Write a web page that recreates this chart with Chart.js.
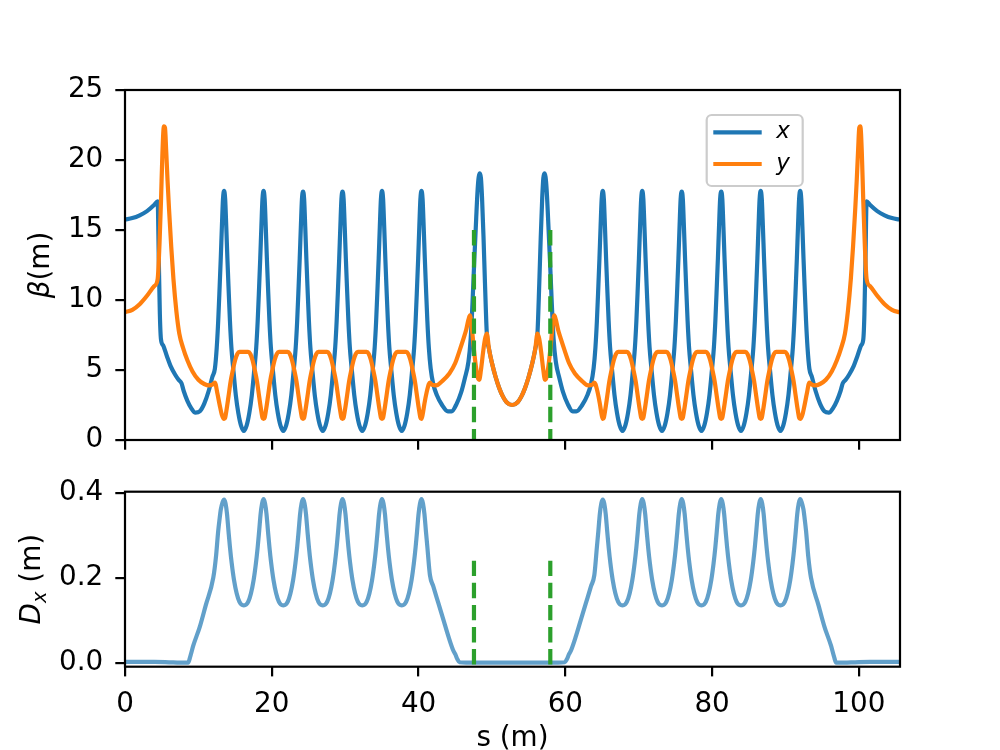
<!DOCTYPE html>
<html>
<head>
<meta charset="utf-8">
<title>Beta functions and dispersion</title>
<script src="https://cdn.jsdelivr.net/npm/chart.js@4.4.1/dist/chart.umd.min.js"></script>
<style>
  html, body { margin: 0; padding: 0; background: #fff; overflow: hidden; }
  #wrap { position: relative; width: 1000px; height: 750px; overflow: hidden; }
  canvas { position: absolute; left: 0; }
  #beta { top: 0; }
  #disp { top: 470px; }
</style>
</head>
<body>
<div id="wrap">
  <canvas id="beta" width="1000" height="470"></canvas>
  <canvas id="disp" width="1000" height="290"></canvas>
</div>
<script>
// values: [s (m), value]
const betaX = [
  [0,15.75],[1,15.85],[2,16.05],[3,16.35],[4,16.8],[4.45,17.05],[4.6,13.0],[4.75,9.0],[4.9,7.2],[5.2,6.75],[5.7,6.0],[6.2,5.3],[6.8,4.7],[7.3,4.3],[7.7,4.05],[8.0,3.5],[8.5,2.8],[9.0,2.3],[9.6,1.95],[10.2,2.05],[10.8,2.6],[11.4,3.5],[11.9,4.5],[12.25,5.1],[12.5,6.6],[12.7,8.5],[12.9,11.0],[13.05,13.0],[13.2,15.2],[13.35,17.2],[13.5,17.8],
  [13.65,17.2],[13.8,15.2],[13.95,13.0],[14.1,11.0],[14.3,8.5],[14.5,6.6],[14.75,5.1],[15.1,3.2],[15.45,1.9],[15.8,1.05],[16.19,0.65],[16.58,1.05],[16.93,1.9],[17.28,3.2],[17.63,5.1],[17.88,6.6],[18.08,8.5],[18.28,11.0],[18.43,13.0],[18.58,15.2],[18.73,17.2],[18.88,17.8],
  [19.03,17.2],[19.18,15.2],[19.33,13.0],[19.48,11.0],[19.68,8.5],[19.88,6.6],[20.13,5.1],[20.48,3.2],[20.83,1.9],[21.18,1.05],[21.57,0.65],[21.96,1.05],[22.31,1.9],[22.66,3.2],[23.01,5.1],[23.26,6.6],[23.46,8.5],[23.66,11.0],[23.81,13.0],[23.96,15.2],[24.11,17.2],[24.26,17.75],
  [24.41,17.2],[24.56,15.2],[24.71,13.0],[24.86,11.0],[25.06,8.5],[25.26,6.6],[25.51,5.1],[25.86,3.2],[26.21,1.9],[26.56,1.05],[26.95,0.65],[27.34,1.05],[27.69,1.9],[28.04,3.2],[28.39,5.1],[28.64,6.6],[28.84,8.5],[29.04,11.0],[29.19,13.0],[29.34,15.2],[29.49,17.2],[29.64,17.75],
  [29.79,17.2],[29.94,15.2],[30.09,13.0],[30.24,11.0],[30.44,8.5],[30.64,6.6],[30.89,5.1],[31.24,3.2],[31.59,1.9],[31.94,1.05],[32.33,0.65],[32.72,1.05],[33.07,1.9],[33.42,3.2],[33.77,5.1],[34.02,6.6],[34.22,8.5],[34.42,11.0],[34.57,13.0],[34.72,15.2],[34.87,17.2],[35.02,17.8],
  [35.17,17.2],[35.32,15.2],[35.47,13.0],[35.62,11.0],[35.82,8.5],[36.02,6.6],[36.27,5.1],[36.62,3.2],[36.97,1.9],[37.32,1.05],[37.71,0.65],[38.1,1.05],[38.45,1.9],[38.8,3.2],[39.15,5.1],[39.4,6.6],[39.6,8.5],[39.8,11.0],[39.95,13.0],[40.1,15.2],[40.25,17.2],[40.4,17.8],
  [40.55,17.2],[40.7,15.2],[40.85,13.0],[41.0,11.0],[41.2,8.5],[41.4,6.6],[41.65,5.1],[42.0,4.0],[42.5,3.2],[43.2,2.5],[44.0,2.05],[44.5,2.05],[45.2,2.6],[45.8,3.4],[46.3,4.4],[46.8,5.6],[47.1,7.2],[47.35,9.8],[47.6,12.9],[47.85,15.8],[48.05,17.9],[48.2,18.8],[48.36,19.05],[48.5,18.7],[48.65,17.3],[48.85,14.5],[49.05,11.2],[49.3,7.6],[49.6,6.5],[50.0,5.5],[50.5,4.5],[51.0,3.7],[51.5,3.1],[52.0,2.7],[52.75,2.5],
  [53.5,2.7],[54.0,3.1],[54.5,3.7],[55.0,4.5],[55.5,5.5],[55.9,6.5],[56.2,7.6],[56.45,11.2],[56.65,14.5],[56.85,17.3],[57.0,18.7],[57.14,19.05],[57.3,18.8],[57.45,17.9],[57.65,15.8],[57.9,12.9],[58.15,9.8],[58.4,7.2],[58.7,5.6],[59.2,4.4],[59.7,3.4],[60.3,2.6],[61.0,2.05],[61.5,2.05],[62.3,2.5],[63.0,3.2],[63.5,4.0],[63.85,5.1],[64.1,6.6],[64.3,8.5],[64.5,11.0],[64.65,13.0],[64.8,15.2],[64.95,17.2],[65.1,17.8],
  [65.25,17.2],[65.4,15.2],[65.55,13.0],[65.7,11.0],[65.9,8.5],[66.1,6.6],[66.35,5.1],[66.7,3.2],[67.05,1.9],[67.4,1.05],[67.79,0.65],[68.18,1.05],[68.53,1.9],[68.88,3.2],[69.23,5.1],[69.48,6.6],[69.68,8.5],[69.88,11.0],[70.03,13.0],[70.18,15.2],[70.33,17.2],[70.48,17.8],
  [70.63,17.2],[70.78,15.2],[70.93,13.0],[71.08,11.0],[71.28,8.5],[71.48,6.6],[71.73,5.1],[72.08,3.2],[72.43,1.9],[72.78,1.05],[73.17,0.65],[73.56,1.05],[73.91,1.9],[74.26,3.2],[74.61,5.1],[74.86,6.6],[75.06,8.5],[75.26,11.0],[75.41,13.0],[75.56,15.2],[75.71,17.2],[75.86,17.75],
  [76.01,17.2],[76.16,15.2],[76.31,13.0],[76.46,11.0],[76.66,8.5],[76.86,6.6],[77.11,5.1],[77.46,3.2],[77.81,1.9],[78.16,1.05],[78.55,0.65],[78.94,1.05],[79.29,1.9],[79.64,3.2],[79.99,5.1],[80.24,6.6],[80.44,8.5],[80.64,11.0],[80.79,13.0],[80.94,15.2],[81.09,17.2],[81.24,17.75],
  [81.39,17.2],[81.54,15.2],[81.69,13.0],[81.84,11.0],[82.04,8.5],[82.24,6.6],[82.49,5.1],[82.84,3.2],[83.19,1.9],[83.54,1.05],[83.93,0.65],[84.32,1.05],[84.67,1.9],[85.02,3.2],[85.37,5.1],[85.62,6.6],[85.82,8.5],[86.02,11.0],[86.17,13.0],[86.32,15.2],[86.47,17.2],[86.62,17.8],
  [86.77,17.2],[86.92,15.2],[87.07,13.0],[87.22,11.0],[87.42,8.5],[87.62,6.6],[87.87,5.1],[88.22,3.2],[88.57,1.9],[88.92,1.05],[89.31,0.65],[89.7,1.05],[90.05,1.9],[90.4,3.2],[90.75,5.1],[91.0,6.6],[91.2,8.5],[91.4,11.0],[91.55,13.0],[91.7,15.2],[91.85,17.2],[92.0,17.8],
  [92.15,17.2],[92.3,15.2],[92.45,13.0],[92.6,11.0],[92.8,8.5],[93.0,6.6],[93.25,5.1],[93.6,4.5],[94.1,3.5],[94.7,2.6],[95.3,2.05],[95.9,1.95],[96.5,2.3],[97.0,2.8],[97.5,3.5],[97.8,4.05],[98.2,4.3],[98.7,4.7],[99.3,5.3],[99.8,6.0],[100.3,6.75],[100.6,7.2],[100.75,9.0],[100.9,13.0],[101.05,17.05],[101.5,16.8],[102.5,16.35],[103.5,16.05],[104.5,15.85],[105.5,15.75],[105.6,15.74]
];

const betaY = [
  [0,9.13],[1,9.3],[2,9.7],[3,10.3],[4,11.0],[4.45,11.5],[4.7,14.0],[4.9,17.0],[5.1,20.5],[5.3,22.4],[5.45,22.3],[5.6,20.8],[5.8,18.5],[6.0,16.5],[6.3,13.8],[6.6,11.5],[7.0,9.2],[7.4,7.6],[7.9,6.6],[8.5,5.7],[9.2,4.9],[10.0,4.3],[10.8,4.0],[11.5,3.9],[11.9,3.95],[12.25,4.1],[12.6,3.3],[12.9,2.5],[13.2,1.8],[13.5,1.5],
  [13.65,1.6],[13.85,2.2],[14.1,3.1],[14.4,4.2],[14.7,5.0],[15.0,5.7],[15.3,6.15],[15.6,6.3],[16.19,6.3],[16.78,6.3],[17.08,6.15],[17.38,5.7],[17.68,5.0],[17.98,4.2],[18.28,3.1],[18.53,2.2],[18.73,1.6],[18.88,1.5],
  [19.03,1.6],[19.23,2.2],[19.48,3.1],[19.78,4.2],[20.08,5.0],[20.38,5.7],[20.68,6.15],[20.98,6.3],[21.57,6.3],[22.16,6.3],[22.46,6.15],[22.76,5.7],[23.06,5.0],[23.36,4.2],[23.66,3.1],[23.91,2.2],[24.11,1.6],[24.26,1.5],
  [24.41,1.6],[24.61,2.2],[24.86,3.1],[25.16,4.2],[25.46,5.0],[25.76,5.7],[26.06,6.15],[26.36,6.3],[26.95,6.3],[27.54,6.3],[27.84,6.15],[28.14,5.7],[28.44,5.0],[28.74,4.2],[29.04,3.1],[29.29,2.2],[29.49,1.6],[29.64,1.5],
  [29.79,1.6],[29.99,2.2],[30.24,3.1],[30.54,4.2],[30.84,5.0],[31.14,5.7],[31.44,6.15],[31.74,6.3],[32.33,6.3],[32.92,6.3],[33.22,6.15],[33.52,5.7],[33.82,5.0],[34.12,4.2],[34.42,3.1],[34.67,2.2],[34.87,1.6],[35.02,1.5],
  [35.17,1.6],[35.37,2.2],[35.62,3.1],[35.92,4.2],[36.22,5.0],[36.52,5.7],[36.82,6.15],[37.12,6.3],[37.71,6.3],[38.3,6.3],[38.6,6.15],[38.9,5.7],[39.2,5.0],[39.5,4.2],[39.8,3.1],[40.05,2.2],[40.25,1.6],[40.4,1.5],
  [40.55,1.8],[40.8,2.6],[41.1,3.4],[41.4,4.0],[41.55,4.1],[41.8,3.95],[42.4,3.9],[43.2,4.2],[44.2,4.75],[45.0,5.5],[45.6,6.4],[46.1,7.2],[46.5,7.9],[46.8,8.6],[47.0,8.9],[47.2,8.3],[47.5,6.7],[47.8,5.3],[48.05,4.5],[48.27,4.3],[48.5,5.0],[48.8,6.3],[49.05,7.2],[49.3,7.6],[49.6,6.5],[50.0,5.5],[50.5,4.5],[51.0,3.7],[51.5,3.1],[52.0,2.7],[52.75,2.5],
  [53.5,2.7],[54.0,3.1],[54.5,3.7],[55.0,4.5],[55.5,5.5],[55.9,6.5],[56.2,7.6],[56.45,7.2],[56.7,6.3],[57.0,5.0],[57.23,4.3],[57.45,4.5],[57.7,5.3],[58.0,6.7],[58.3,8.3],[58.5,8.9],[58.7,8.6],[59.0,7.9],[59.4,7.2],[59.9,6.4],[60.5,5.5],[61.3,4.75],[62.3,4.2],[63.1,3.9],[63.7,3.95],[63.95,4.1],[64.1,4.0],[64.4,3.4],[64.7,2.6],[64.95,1.8],[65.1,1.5],
  [65.25,1.6],[65.45,2.2],[65.7,3.1],[66.0,4.2],[66.3,5.0],[66.6,5.7],[66.9,6.15],[67.2,6.3],[67.79,6.3],[68.38,6.3],[68.68,6.15],[68.98,5.7],[69.28,5.0],[69.58,4.2],[69.88,3.1],[70.13,2.2],[70.33,1.6],[70.48,1.5],
  [70.63,1.6],[70.83,2.2],[71.08,3.1],[71.38,4.2],[71.68,5.0],[71.98,5.7],[72.28,6.15],[72.58,6.3],[73.17,6.3],[73.76,6.3],[74.06,6.15],[74.36,5.7],[74.66,5.0],[74.96,4.2],[75.26,3.1],[75.51,2.2],[75.71,1.6],[75.86,1.5],
  [76.01,1.6],[76.21,2.2],[76.46,3.1],[76.76,4.2],[77.06,5.0],[77.36,5.7],[77.66,6.15],[77.96,6.3],[78.55,6.3],[79.14,6.3],[79.44,6.15],[79.74,5.7],[80.04,5.0],[80.34,4.2],[80.64,3.1],[80.89,2.2],[81.09,1.6],[81.24,1.5],
  [81.39,1.6],[81.59,2.2],[81.84,3.1],[82.14,4.2],[82.44,5.0],[82.74,5.7],[83.04,6.15],[83.34,6.3],[83.93,6.3],[84.52,6.3],[84.82,6.15],[85.12,5.7],[85.42,5.0],[85.72,4.2],[86.02,3.1],[86.27,2.2],[86.47,1.6],[86.62,1.5],
  [86.77,1.6],[86.97,2.2],[87.22,3.1],[87.52,4.2],[87.82,5.0],[88.12,5.7],[88.42,6.15],[88.72,6.3],[89.31,6.3],[89.9,6.3],[90.2,6.15],[90.5,5.7],[90.8,5.0],[91.1,4.2],[91.4,3.1],[91.65,2.2],[91.85,1.6],[92.0,1.5],
  [92.3,1.8],[92.6,2.5],[92.9,3.3],[93.25,4.1],[93.6,3.95],[94.0,3.9],[94.7,4.0],[95.5,4.3],[96.3,4.9],[97.0,5.7],[97.6,6.6],[98.1,7.6],[98.5,9.2],[98.9,11.5],[99.2,13.8],[99.5,16.5],[99.7,18.5],[99.9,20.8],[100.05,22.3],[100.2,22.4],[100.4,20.5],[100.6,17.0],[100.8,14.0],[101.05,11.5],[101.5,11.0],[102.5,10.3],[103.5,9.7],[104.5,9.3],[105.5,9.13],[105.6,9.12]
];

const dispX = [
  [0,0.002],[2,0.002],[4,0.002],[6,0.001],[7.5,0.0],[8.6,0.0],[8.9,0.015],[9.3,0.04],[10.2,0.085],[11.0,0.135],[12.03,0.2],[12.4,0.25],[12.7,0.31],[12.9,0.34],[13.05,0.36],[13.3,0.378],[13.5,0.384],
  [13.7,0.375],[13.9,0.35],[14.1,0.31],[14.3,0.272],[14.54,0.234],[14.85,0.195],[15.22,0.163],[15.6,0.143],[15.85,0.137],[16.19,0.135],[16.53,0.137],[16.78,0.143],[17.16,0.163],[17.53,0.195],[17.84,0.234],[18.08,0.272],[18.28,0.31],[18.48,0.35],[18.68,0.375],[18.88,0.385],
  [19.08,0.375],[19.28,0.35],[19.48,0.31],[19.68,0.272],[19.92,0.234],[20.23,0.195],[20.6,0.163],[20.98,0.143],[21.23,0.137],[21.57,0.135],[21.91,0.137],[22.16,0.143],[22.54,0.163],[22.91,0.195],[23.22,0.234],[23.46,0.272],[23.66,0.31],[23.86,0.35],[24.06,0.375],[24.26,0.385],
  [24.46,0.375],[24.66,0.35],[24.86,0.31],[25.06,0.272],[25.3,0.234],[25.61,0.195],[25.98,0.163],[26.36,0.143],[26.61,0.137],[26.95,0.135],[27.29,0.137],[27.54,0.143],[27.92,0.163],[28.29,0.195],[28.6,0.234],[28.84,0.272],[29.04,0.31],[29.24,0.35],[29.44,0.375],[29.64,0.385],
  [29.84,0.375],[30.04,0.35],[30.24,0.31],[30.44,0.272],[30.68,0.234],[30.99,0.195],[31.36,0.163],[31.74,0.143],[31.99,0.137],[32.33,0.135],[32.67,0.137],[32.92,0.143],[33.3,0.163],[33.67,0.195],[33.98,0.234],[34.22,0.272],[34.42,0.31],[34.62,0.35],[34.82,0.375],[35.02,0.385],
  [35.22,0.375],[35.42,0.35],[35.62,0.31],[35.82,0.272],[36.06,0.234],[36.37,0.195],[36.74,0.163],[37.12,0.143],[37.37,0.137],[37.71,0.135],[38.05,0.137],[38.3,0.143],[38.68,0.163],[39.05,0.195],[39.36,0.234],[39.6,0.272],[39.8,0.31],[40.0,0.35],[40.2,0.375],[40.4,0.385],
  [40.6,0.375],[40.8,0.35],[41.0,0.31],[41.2,0.272],[41.55,0.206],[42.0,0.18],[42.7,0.14],[43.4,0.1],[44.1,0.06],[44.7,0.03],[45.0,0.02],[45.3,0.008],[45.6,0.001],[46.5,0.0],[52.75,0.0],
  [59.0,0.0],[59.9,0.001],[60.2,0.008],[60.5,0.02],[60.8,0.03],[61.4,0.06],[62.1,0.1],[62.8,0.14],[63.5,0.18],[63.95,0.206],[64.3,0.272],[64.5,0.31],[64.7,0.35],[64.9,0.375],[65.1,0.384],
  [65.3,0.375],[65.5,0.35],[65.7,0.31],[65.9,0.272],[66.14,0.234],[66.45,0.195],[66.82,0.163],[67.2,0.143],[67.45,0.137],[67.79,0.135],[68.13,0.137],[68.38,0.143],[68.76,0.163],[69.13,0.195],[69.44,0.234],[69.68,0.272],[69.88,0.31],[70.08,0.35],[70.28,0.375],[70.48,0.385],
  [70.68,0.375],[70.88,0.35],[71.08,0.31],[71.28,0.272],[71.52,0.234],[71.83,0.195],[72.2,0.163],[72.58,0.143],[72.83,0.137],[73.17,0.135],[73.51,0.137],[73.76,0.143],[74.14,0.163],[74.51,0.195],[74.82,0.234],[75.06,0.272],[75.26,0.31],[75.46,0.35],[75.66,0.375],[75.86,0.385],
  [76.06,0.375],[76.26,0.35],[76.46,0.31],[76.66,0.272],[76.9,0.234],[77.21,0.195],[77.58,0.163],[77.96,0.143],[78.21,0.137],[78.55,0.135],[78.89,0.137],[79.14,0.143],[79.52,0.163],[79.89,0.195],[80.2,0.234],[80.44,0.272],[80.64,0.31],[80.84,0.35],[81.04,0.375],[81.24,0.385],
  [81.44,0.375],[81.64,0.35],[81.84,0.31],[82.04,0.272],[82.28,0.234],[82.59,0.195],[82.96,0.163],[83.34,0.143],[83.59,0.137],[83.93,0.135],[84.27,0.137],[84.52,0.143],[84.9,0.163],[85.27,0.195],[85.58,0.234],[85.82,0.272],[86.02,0.31],[86.22,0.35],[86.42,0.375],[86.62,0.385],
  [86.82,0.375],[87.02,0.35],[87.22,0.31],[87.42,0.272],[87.66,0.234],[87.97,0.195],[88.34,0.163],[88.72,0.143],[88.97,0.137],[89.31,0.135],[89.65,0.137],[89.9,0.143],[90.28,0.163],[90.65,0.195],[90.96,0.234],[91.2,0.272],[91.4,0.31],[91.6,0.35],[91.8,0.375],[92.0,0.385],
  [92.2,0.378],[92.45,0.36],[92.6,0.34],[92.8,0.31],[93.1,0.25],[93.47,0.2],[94.5,0.135],[95.3,0.085],[96.2,0.04],[96.6,0.015],[96.9,0.0],[98.0,0.0],[99.5,0.001],[101.5,0.002],[103.5,0.002],[105.6,0.002]
];

// green dashed markers
const markerS = [47.55, 57.95];
const markerTopBeta = 15;
const markerTopDisp = 0.24;

// axes
const sMax = 105.6;
const sTicks = [0, 20, 40, 60, 80, 100];
const betaTicks = [0, 5, 10, 15, 20, 25];
const dispTicks = [0, 0.2, 0.4];
const dispMin = -0.0094;
const dispMax = 0.4024;

const BLUE = '#1f77b4';
const ORANGE = '#ff7f0e';
const GREEN = '#2ca02c';
const FONT = { family: 'DejaVu Sans', size: 27.8 };
const LW = 4.2;

const toXY = pairs => pairs.map(([s, v]) => ({ x: s, y: v }));

function curve(label, pairs, color, order) {
    return {
        label: label,
        data: toXY(pairs),
        borderColor: color,
        borderWidth: LW,
        pointRadius: 0,
        fill: false,
        cubicInterpolationMode: 'monotone',
        borderJoinStyle: 'round',
        order: order
    };
}

function marker(s, top, bottom) {
    return {
        label: 'marker',
        data: [{ x: s, y: top }, { x: s, y: bottom }],
        borderColor: GREEN,
        borderWidth: LW,
        borderDash: [15.4, 6.7],
        borderCapStyle: 'butt',
        pointRadius: 0,
        tension: 0,
        fill: false,
        order: 0
    };
}

const tickMarks = {
    drawOnChartArea: false,
    drawTicks: true,
    tickLength: 9.7,
    tickWidth: 2.2,
    tickColor: '#000',
    lineWidth: 2.2,
    color: '#000'
};

// y axis fixed at 125px, no extra label padding above/below the plot
const fixY = s => { s.width = 125; s.paddingTop = 0; s.paddingBottom = 0; };

// full box round the plot area, like matplotlib spines
const framePlugin = {
    id: 'frame',
    afterDatasetsDraw(chart) {
        const a = chart.chartArea;
        const ctx = chart.ctx;
        ctx.save();
        ctx.strokeStyle = '#000';
        ctx.lineWidth = 2.2;
        ctx.strokeRect(a.left, a.top, a.right - a.left, a.bottom - a.top);
        ctx.restore();
    }
};

// rotated y label made of pieces (italic symbol, subscript, plain unit)
function yLabelPlugin(id, baseX, parts) {
    return {
        id: id,
        afterDraw(chart) {
            const a = chart.chartArea;
            const ctx = chart.ctx;
            const fontOf = p => (p.italic ? 'italic ' : '') + (p.size || FONT.size) + 'px "DejaVu Sans"';
            let total = 0;
            parts.forEach(p => { ctx.font = fontOf(p); p.w = ctx.measureText(p.text).width; total += p.w; });
            ctx.save();
            ctx.translate(baseX, (a.top + a.bottom) / 2);
            ctx.rotate(-Math.PI / 2);
            ctx.fillStyle = '#000';
            ctx.textAlign = 'left';
            ctx.textBaseline = 'alphabetic';
            let x = -total / 2;
            parts.forEach(p => {
                ctx.font = fontOf(p);
                ctx.fillText(p.text, x, p.shift || 0);
                x += p.w;
            });
            ctx.restore();
        }
    };
}

// legend inside the upper plot
const legendPlugin = {
    id: 'boxLegend',
    afterDraw(chart) {
        const a = chart.chartArea;
        const ctx = chart.ctx;
        const bx = a.right - 193.3, by = a.top + 25, bw = 96, bh = 71, r = 5;
        ctx.save();
        ctx.beginPath();
        ctx.moveTo(bx + r, by);
        ctx.arcTo(bx + bw, by, bx + bw, by + bh, r);
        ctx.arcTo(bx + bw, by + bh, bx, by + bh, r);
        ctx.arcTo(bx, by + bh, bx, by, r);
        ctx.arcTo(bx, by, bx + bw, by, r);
        ctx.closePath();
        ctx.fillStyle = 'rgba(255,255,255,0.8)';
        ctx.fill();
        ctx.strokeStyle = '#cccccc';
        ctx.lineWidth = 2.2;
        ctx.stroke();

        const items = chart.data.datasets.filter(d => d.label !== 'marker');
        items.forEach((d, i) => {
            const y = by + 17.3 + i * 31.7;
            ctx.beginPath();
            ctx.moveTo(bx + 6.6, y);
            ctx.lineTo(bx + 55, y);
            ctx.strokeStyle = d.borderColor;
            ctx.lineWidth = LW;
            ctx.lineCap = 'butt';
            ctx.stroke();
            ctx.fillStyle = '#000';
            ctx.font = 'italic 23px "DejaVu Sans"';
            ctx.textAlign = 'left';
            ctx.textBaseline = 'middle';
            ctx.fillText(d.label, bx + 69.5, y);
        });
        ctx.restore();
    }
};

const common = {
    responsive: false,
    animation: false,
    devicePixelRatio: 1,
    events: [],
    plugins: { legend: { display: false }, tooltip: { enabled: false } }
};

// beta functions
new Chart(document.getElementById('beta'), {
    type: 'line',
    data: {
        datasets: [
            curve('x', betaX, BLUE, 2),
            curve('y', betaY, ORANGE, 1),
            ...markerS.map(s => marker(s, markerTopBeta, 0))
        ]
    },
    options: {
        ...common,
        layout: { padding: { top: 90, right: 100, left: 0, bottom: 0 } },
        scales: {
            x: {
                type: 'linear', min: 0, max: sMax,
                afterBuildTicks: s => { s.ticks = sTicks.map(v => ({ value: v })); },
                afterFit: s => { s.height = 30; },
                ticks: { display: false },
                grid: tickMarks,
                border: { display: false }
            },
            y: {
                type: 'linear', min: 0, max: 25,
                afterBuildTicks: s => { s.ticks = betaTicks.map(v => ({ value: v })); },
                afterFit: fixY,
                ticks: { color: '#000', font: FONT, padding: 12 },
                grid: tickMarks,
                border: { display: false }
            }
        }
    },
    plugins: [
        framePlugin,
        legendPlugin,
        yLabelPlugin('betaLabel', 48.5, [{ text: 'β', italic: true }, { text: '(m)' }])
    ]
});

// horizontal dispersion
new Chart(document.getElementById('disp'), {
    type: 'line',
    data: {
        datasets: [
            curve('Dx', dispX, 'rgba(31,119,180,0.7)', 1),
            ...markerS.map(s => marker(s, markerTopDisp, dispMin - 0.01))
        ]
    },
    options: {
        ...common,
        layout: { padding: { top: 21.7, right: 100, left: 0, bottom: 0 } },
        scales: {
            x: {
                type: 'linear', min: 0, max: sMax,
                afterBuildTicks: s => { s.ticks = sTicks.map(v => ({ value: v })); },
                afterFit: s => { s.height = 93.3; },
                ticks: { color: '#000', font: FONT, padding: 12 },
                grid: tickMarks,
                border: { display: false },
                title: { display: true, text: 's (m)', color: '#000', font: FONT, padding: { top: 0, bottom: 4.3 } }
            },
            y: {
                type: 'linear', min: dispMin, max: dispMax,
                afterBuildTicks: s => { s.ticks = dispTicks.map(v => ({ value: v })); },
                afterFit: fixY,
                ticks: { color: '#000', font: FONT, padding: 12, callback: v => v.toFixed(1) },
                grid: tickMarks,
                border: { display: false }
            }
        }
    },
    plugins: [
        framePlugin,
        yLabelPlugin('dispLabel', 40.2, [{ text: 'D', italic: true }, { text: 'x', italic: true, size: 19.5, shift: 5.5 }, { text: ' (m)' }])
    ]
});
</script>
</body>
</html>
